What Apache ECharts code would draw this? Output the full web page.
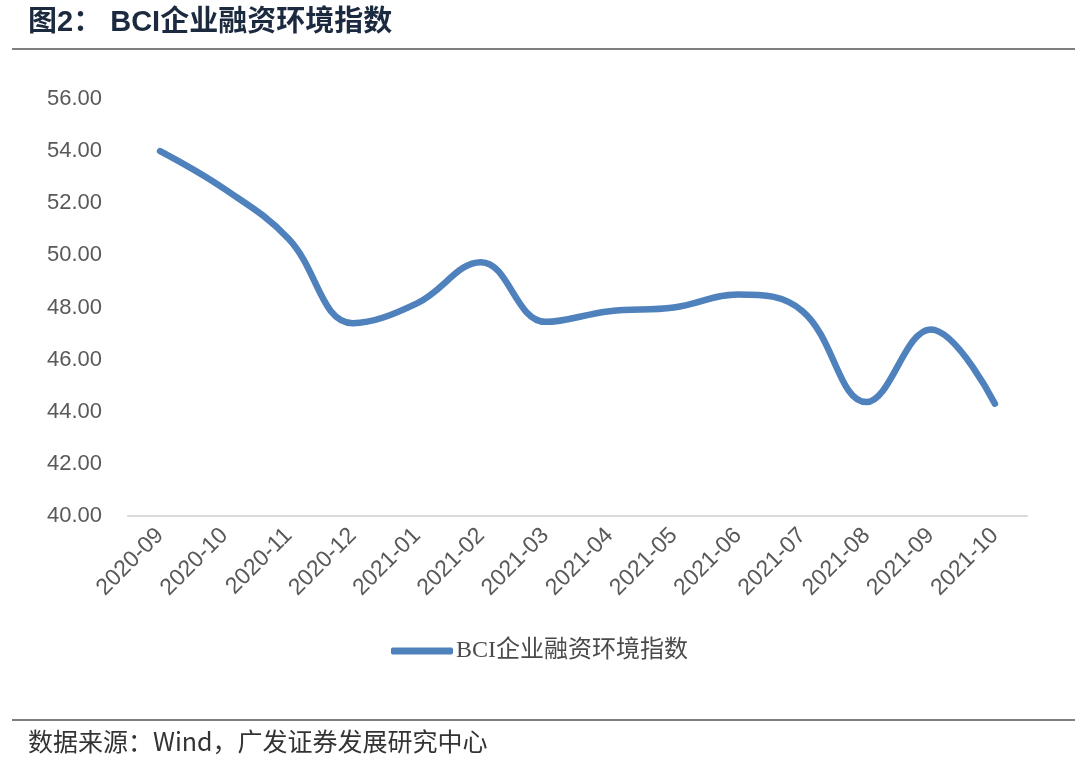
<!DOCTYPE html>
<html><head><meta charset="utf-8">
<script src="https://cdn.jsdelivr.net/npm/echarts@6/dist/echarts.min.js"></script>
<style>html,body{margin:0;padding:0;background:#fff}#c{width:1080px;height:761px}</style>
</head><body><div id="c"></div>
<script>
const categories = ['2020-09','2020-10','2020-11','2020-12','2021-01','2021-02','2021-03','2021-04','2021-05','2021-06','2021-07','2021-08','2021-09','2021-10'];
const bciValues = [54.0, 52.55, 50.64, 47.4, 48.16, 49.74, 47.45, 47.86, 48.0, 48.5, 47.87, 44.37, 47.16, 44.31];
const seriesName = 'BCI企业融资环境指数';
const titleText = '图2： BCI企业融资环境指数';
const sourceText = '数据来源：Wind，广发证券发展研究中心';
const yMin = 40, yMax = 56, yStep = 2;

const chart = echarts.init(document.getElementById('c'), null, {renderer:'canvas'});
chart.setOption({
  animation:false,
  backgroundColor:'#fff',
  grid:{left:128,right:53,top:99,bottom:245,containLabel:false},
  graphic:[
    {type:'text',left:28,top:8,style:{text:titleText,font:'bold 29px "Liberation Sans","Noto Sans CJK SC",sans-serif',fill:'#1c2a3f'}},
    {type:'line',shape:{x1:12,y1:49,x2:1075,y2:49},style:{stroke:'#555',lineWidth:1.5}},
    {type:'line',shape:{x1:12,y1:720,x2:1075,y2:720},style:{stroke:'#555',lineWidth:1.5}},
    {type:'text',left:28,top:729,style:{text:sourceText,font:'25px "Noto Sans CJK SC","Liberation Sans",sans-serif',fill:'#333'}}
  ],
  legend:{
    left:386,top:634,
    itemWidth:62,itemHeight:7,itemGap:4,
    icon:'roundRect',
    data:[seriesName],
    textStyle:{fontSize:24,color:'#4a4a4a',fontFamily:'"Liberation Serif","Noto Sans CJK SC",serif',padding:[0,0,0,-2]}
  },
  xAxis:{
    type:'category',data:categories,boundaryGap:true,
    axisLine:{show:true,lineStyle:{color:'#d9d9d9',width:2}},
    axisTick:{show:false},
    axisLabel:{rotate:45,fontSize:23,color:'#595959',fontFamily:'"Liberation Sans",Arial,sans-serif',margin:16,interval:0}
  },
  yAxis:{
    type:'value',min:yMin,max:yMax,interval:yStep,
    splitLine:{show:false},
    axisLine:{show:false},axisTick:{show:false},
    axisLabel:{fontSize:22,color:'#595959',fontFamily:'"Liberation Sans",Arial,sans-serif',margin:26,formatter:v=>v.toFixed(2)}
  },
  series:[{
    name:seriesName,type:'line',data:bciValues,smooth:0.4,
    symbol:'none',
    lineStyle:{color:'#4f81bd',width:6.5,cap:'round'},
    itemStyle:{color:'#4f81bd'}
  }]
});
</script></body></html>
